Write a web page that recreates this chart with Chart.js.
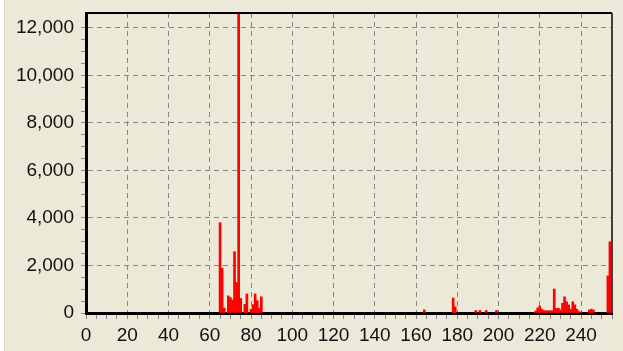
<!DOCTYPE html>
<html>
<head>
  <title>Byte histogram</title>
  <script src="https://cdn.jsdelivr.net/npm/chart.js"></script>
  <style>
    body { margin: 0; background: #ECE9D8; }
    #wrap { position: absolute; left: 0; top: 0; width: 623px; height: 351px; }
    #strip { position: absolute; left: 0; top: 0; width: 4px; height: 351px; background: #fff; border-right: 1px solid #d8d5c8; }
  </style>
  <script>
    // byte value -> count (bars that are not zero)
    const byteValues = [65, 66, 67, 69, 70, 71, 72, 73, 74, 75, 77, 78, 80, 81, 82, 83, 84, 85,
      164, 178, 179, 189, 191, 194, 199,
      218, 219, 220, 221, 222, 223, 224, 225, 226, 227, 228, 229, 230, 231, 232, 233, 234,
      235, 236, 237, 238, 239, 240, 244, 245, 246, 253, 254];
    const counts = [3800, 1880, 210, 720, 650, 550, 2580, 1280, 14000, 610, 360, 800, 160, 350, 800, 520, 190, 680,
      130, 630, 260, 105, 105, 105, 105,
      85, 210, 290, 160, 100, 95, 95, 95, 95, 1010, 190, 200, 130, 410, 680, 470, 340,
      160, 470, 340, 160, 60, 40, 130, 160, 130, 1560, 3000];

    const xMajor = 20;
    const yMajor = 2000;
    const yMinor = 500;
    const yTop = 12000;

    window.onload = function() {
      const ctx = document.getElementById('myChart').getContext('2d');

      const frame = {
        id: 'frame',
        afterDraw(chart) {
          const a = chart.chartArea;
          const c = chart.ctx;
          c.save();
          c.strokeStyle = '#000';
          c.lineWidth = 2;
          c.beginPath();
          c.moveTo(a.left, a.top);
          c.lineTo(a.right, a.top);
          c.stroke();
          c.strokeStyle = '#404040';
          c.beginPath();
          c.moveTo(a.right, a.top);
          c.lineTo(a.right, a.bottom);
          c.stroke();
          c.restore();
        }
      };

      new Chart(ctx, {
        type: 'bar',
        data: {
          datasets: [{
            data: byteValues.map((v, i) => ({ x: v, y: counts[i] })),
            backgroundColor: '#FF0000',
            borderWidth: 0,
            barThickness: 2
          }]
        },
        options: {
          responsive: false,
          animation: false,
          layout: { padding: { left: 0, right: 11, top: 13, bottom: 0 } },
          plugins: { legend: { display: false }, tooltip: { enabled: false } },
          scales: {
            x: {
              type: 'linear',
              offset: false,
              min: 0,
              max: 255,
              afterFit: s => { s.height = 38; s.paddingLeft = 0; s.paddingRight = 0; },
              ticks: {
                stepSize: 5,
                autoSkip: false,
                maxRotation: 0,
                padding: 5,
                color: '#111',
                font: { family: 'Liberation Sans', size: 19 },
                callback: v => v % xMajor === 0 ? v : ''
              },
              grid: {
                offset: false,
                color: c => c.tick && c.tick.value % xMajor === 0 && c.tick.value > 0 ? '#858585' : 'transparent',
                tickColor: '#858585',
                tickLength: 6,
                lineWidth: 1
              },
              border: { color: '#000', width: 3, dash: [5, 4] }
            },
            y: {
              min: 0,
              max: 12630,
              afterFit: s => { s.width = 86; s.paddingTop = 0; s.paddingBottom = 0; },
              afterBuildTicks: s => {
                const t = [];
                for (let v = 0; v <= yTop; v += yMinor) t.push({ value: v });
                s.ticks = t;
              },
              ticks: {
                autoSkip: false,
                padding: 7,
                color: '#111',
                font: { family: 'Liberation Sans', size: 19 },
                callback: v => v % yMajor === 0 ? v.toLocaleString('en-US') : ''
              },
              grid: {
                color: c => c.tick && c.tick.value % yMajor === 0 && c.tick.value > 0 ? '#858585' : 'transparent',
                tickColor: '#858585',
                tickLength: 5,
                lineWidth: 1
              },
              border: { color: '#000', width: 3, dash: [5, 4] }
            }
          }
        },
        plugins: [frame]
      });
    };
  </script>
</head>
<body>
<div id="wrap">
  <canvas id="myChart" width="623" height="351"></canvas>
</div>
<div id="strip"></div>
</body>
</html>
